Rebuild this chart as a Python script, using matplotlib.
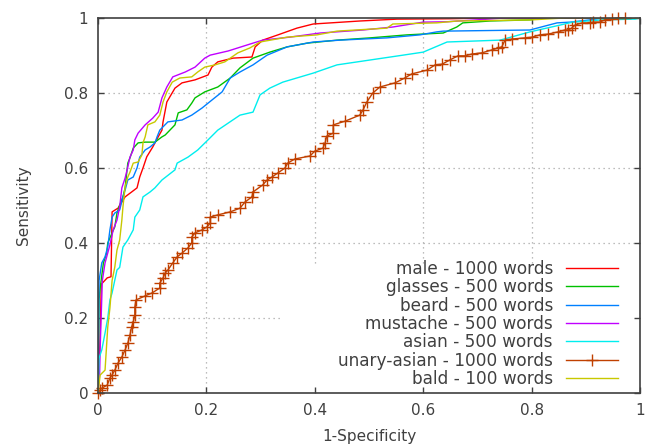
import matplotlib
matplotlib.use("Agg")
import matplotlib.pyplot as plt

# ---------------- data (FPR = 1-Specificity, TPR = Sensitivity) ----------------
labels = ["male - 1000 words", "glasses - 500 words", "beard - 500 words",
          "mustache - 500 words", "asian - 500 words",
          "unary-asian - 1000 words", "bald - 100 words"]

male_x = [0, 0.004, 0.006, 0.017, 0.024, 0.026, 0.037, 0.05, 0.062, 0.072, 0.077, 0.083, 0.09,
          0.101, 0.111, 0.118, 0.12, 0.127, 0.142, 0.155, 0.179, 0.203, 0.21, 0.221, 0.249,
          0.284, 0.29, 0.304, 0.332, 0.367, 0.397, 0.483, 0.552, 0.65, 0.72, 1.0]
male_y = [0, 0.15, 0.29, 0.307, 0.31, 0.483, 0.493, 0.523, 0.536, 0.547, 0.576, 0.6, 0.63,
          0.656, 0.683, 0.701, 0.723, 0.776, 0.813, 0.827, 0.835, 0.848, 0.869, 0.883, 0.893,
          0.896, 0.923, 0.941, 0.955, 0.973, 0.984, 0.992, 0.997, 0.998, 1.0, 1.0]

glasses_x = [0, 0.002, 0.004, 0.01, 0.016, 0.018, 0.026, 0.031, 0.035, 0.04, 0.046, 0.05,
             0.053, 0.055, 0.059, 0.065, 0.074, 0.087, 0.105, 0.118, 0.124, 0.142, 0.148,
             0.164, 0.173, 0.179, 0.197, 0.221, 0.244, 0.262, 0.286, 0.317, 0.349, 0.386,
             0.441, 0.502, 0.57, 0.637, 0.662, 0.673, 0.723, 0.797, 0.82, 1.0]
glasses_y = [0, 0.25, 0.28, 0.347, 0.373, 0.4, 0.427, 0.443, 0.48, 0.501, 0.523, 0.547,
             0.587, 0.613, 0.627, 0.653, 0.667, 0.669, 0.669, 0.683, 0.688, 0.715, 0.747,
             0.755, 0.773, 0.787, 0.803, 0.816, 0.84, 0.867, 0.893, 0.909, 0.923, 0.933,
             0.941, 0.947, 0.955, 0.96, 0.976, 0.987, 0.992, 0.995, 1.0, 1.0]

beard_x = [0, 0.002, 0.007, 0.013, 0.018, 0.022, 0.026, 0.031, 0.04, 0.046, 0.05, 0.055,
           0.065, 0.072, 0.077, 0.087, 0.096, 0.105, 0.109, 0.114, 0.129, 0.155, 0.173,
           0.192, 0.21, 0.229, 0.244, 0.262, 0.286, 0.312, 0.349, 0.397, 0.447, 0.533,
           0.594, 0.625, 0.637, 0.797, 0.81, 0.847, 0.871, 0.908, 0.93, 1.0]
beard_y = [0, 0.3, 0.347, 0.363, 0.39, 0.435, 0.469, 0.48, 0.488, 0.523, 0.541, 0.568,
           0.576, 0.6, 0.629, 0.648, 0.656, 0.667, 0.683, 0.701, 0.723, 0.728, 0.741,
           0.76, 0.781, 0.803, 0.84, 0.856, 0.875, 0.901, 0.923, 0.936, 0.941, 0.947,
           0.955, 0.963, 0.965, 0.968, 0.973, 0.987, 0.989, 0.995, 1.0, 1.0]

mustache_x = [0, 0.003, 0.004, 0.008, 0.013, 0.022, 0.028, 0.035, 0.04, 0.044, 0.05, 0.055,
              0.059, 0.065, 0.068, 0.074, 0.087, 0.101, 0.111, 0.118, 0.127, 0.138, 0.161,
              0.179, 0.197, 0.207, 0.24, 0.286, 0.304, 0.354, 0.41, 0.489, 0.544, 0.6,
              0.644, 0.72, 0.75, 1.0]
mustache_y = [0, 0.05, 0.12, 0.3, 0.347, 0.395, 0.435, 0.461, 0.496, 0.547, 0.573, 0.603,
              0.629, 0.648, 0.675, 0.693, 0.715, 0.733, 0.749, 0.787, 0.816, 0.843, 0.856,
              0.869, 0.893, 0.901, 0.912, 0.933, 0.941, 0.949, 0.96, 0.968, 0.976, 0.989,
              0.99, 0.997, 1.0, 1.0]

asian_x = [0, 0.002, 0.007, 0.013, 0.018, 0.022, 0.026, 0.031, 0.035, 0.04, 0.046, 0.055,
           0.065, 0.068, 0.077, 0.083, 0.096, 0.105, 0.118, 0.142, 0.146, 0.166, 0.184,
           0.203, 0.221, 0.262, 0.286, 0.299, 0.317, 0.341, 0.397, 0.441, 0.502, 0.563,
           0.6, 0.644, 0.742, 0.797, 0.852, 0.876, 0.93, 0.99, 1.0]
asian_y = [0, 0.093, 0.115, 0.16, 0.2, 0.248, 0.267, 0.301, 0.328, 0.335, 0.389, 0.408,
           0.435, 0.469, 0.488, 0.523, 0.536, 0.547, 0.568, 0.595, 0.613, 0.629, 0.648,
           0.675, 0.701, 0.741, 0.749, 0.795, 0.813, 0.829, 0.853, 0.875, 0.888, 0.901,
           0.909, 0.936, 0.941, 0.963, 0.981, 0.989, 0.995, 0.997, 1.0]

unary_x = [0, 0.004, 0.007, 0.017, 0.022, 0.026, 0.031, 0.037, 0.044, 0.05, 0.055, 0.059,
           0.062, 0.065, 0.068, 0.068, 0.07, 0.087, 0.1, 0.114, 0.114, 0.12, 0.124, 0.129,
           0.138, 0.146, 0.155, 0.166, 0.173, 0.173, 0.179, 0.192, 0.201, 0.207, 0.207,
           0.221, 0.244, 0.262, 0.271, 0.284, 0.286, 0.304, 0.312, 0.321, 0.332, 0.345,
           0.35, 0.363, 0.391, 0.4, 0.415, 0.419, 0.422, 0.434, 0.434, 0.456, 0.483, 0.489,
           0.496, 0.507, 0.52, 0.548, 0.566, 0.579, 0.607, 0.622, 0.635, 0.649, 0.664,
           0.677, 0.69, 0.708, 0.727, 0.738, 0.745, 0.751, 0.764, 0.788, 0.801, 0.815,
           0.83, 0.849, 0.862, 0.867, 0.874, 0.88, 0.893, 0.908, 0.913, 0.926, 0.935,
           0.948, 0.96, 0.972]
unary_y = [0, 0.008, 0.013, 0.021, 0.04, 0.048, 0.061, 0.08, 0.096, 0.115, 0.133, 0.155,
           0.176, 0.189, 0.208, 0.229, 0.248, 0.259, 0.267, 0.28, 0.293, 0.307, 0.32, 0.328,
           0.347, 0.363, 0.373, 0.387, 0.4, 0.416, 0.427, 0.435, 0.443, 0.453, 0.469,
           0.475, 0.483, 0.493, 0.509, 0.523, 0.536, 0.555, 0.568, 0.576, 0.587, 0.6,
           0.613, 0.624, 0.632, 0.645, 0.653, 0.667, 0.685, 0.693, 0.715, 0.725, 0.741,
           0.755, 0.776, 0.8, 0.816, 0.827, 0.84, 0.851, 0.861, 0.875, 0.877, 0.888, 0.899,
           0.899, 0.904, 0.907, 0.915, 0.92, 0.923, 0.941, 0.944, 0.947, 0.949, 0.955,
           0.957, 0.963, 0.968, 0.968, 0.973, 0.981, 0.987, 0.987, 0.989, 0.989, 0.995,
           0.997, 1.0, 1.0]

bald_x = [0, 0.004, 0.013, 0.015, 0.018, 0.022, 0.026, 0.031, 0.035, 0.04, 0.044, 0.046,
          0.05, 0.055, 0.059, 0.065, 0.074, 0.081, 0.083, 0.087, 0.092, 0.105, 0.114, 0.12,
          0.127, 0.137, 0.151, 0.173, 0.184, 0.197, 0.216, 0.234, 0.244, 0.258, 0.28,
          0.299, 0.349, 0.404, 0.441, 0.533, 0.544, 0.625, 0.662, 0.8, 0.86, 1.0]
bald_y = [0, 0.048, 0.061, 0.107, 0.176, 0.227, 0.3, 0.336, 0.381, 0.408, 0.461, 0.496,
          0.549, 0.576, 0.589, 0.613, 0.616, 0.635, 0.667, 0.683, 0.715, 0.723, 0.741,
          0.776, 0.803, 0.829, 0.84, 0.843, 0.856, 0.869, 0.875, 0.883, 0.893, 0.907,
          0.92, 0.936, 0.949, 0.955, 0.965, 0.973, 0.984, 0.987, 0.992, 0.995, 1.0, 1.0]

tick_values = [0, 0.2, 0.4, 0.6, 0.8, 1.0]
tick_labels = ["0", "0.2", "0.4", "0.6", "0.8", "1"]
x_label = "1-Specificity"
y_label = "Sensitivity"

colors = ["#ff0000", "#00c000", "#0080ff", "#c000ff", "#00eeee", "#c04000", "#c8c800"]

# ---------------- figure ----------------
plt.rcParams["font.family"] = ["DejaVu Sans"]
text_color = "#404040"

fig = plt.figure(figsize=(6.45, 4.44), dpi=100)
ax = fig.add_axes([98 / 645, 51 / 444, 542 / 645, 375 / 444])
ax.set_xlim(0, 1)
ax.set_ylim(0, 1)

# gnuplot-like dotted grid, hidden behind the key area
grid_kw = dict(color="#a8a8a8", lw=0.9, ls=(0, (1, 3)), zorder=0.5)
for v in tick_values[1:-1]:
    if v <= 0.2:
        ax.axvline(v, **grid_kw)
    else:
        ax.axvline(v, ymin=0.347, ymax=1, **grid_kw)
for v in tick_values[1:-1]:
    if v <= 0.2:
        ax.axhline(v, xmin=0, xmax=0.336, **grid_kw)
    else:
        ax.axhline(v, **grid_kw)

series = [(male_x, male_y), (glasses_x, glasses_y), (beard_x, beard_y),
          (mustache_x, mustache_y), (asian_x, asian_y), (unary_x, unary_y),
          (bald_x, bald_y)]
for i, ((xs, ys), lab, col) in enumerate(zip(series, labels, colors)):
    if i == 5:
        ax.plot(xs, ys, color=col, lw=1.0, marker="+", ms=8, mew=1.0, label=lab,
                clip_on=False)
    else:
        ax.plot(xs, ys, color=col, lw=1.0, label=lab)

ax.set_xticks(tick_values)
ax.set_xticklabels(tick_labels)
ax.set_yticks(tick_values)
ax.set_yticklabels(tick_labels)
ax.tick_params(direction="in", length=4.5, width=1.0, color="#404040",
               top=True, right=True, labelsize=11, labelcolor=text_color, pad=7)
for s in ax.spines.values():
    s.set_color("#404040")
    s.set_linewidth(1.2)

ax.set_xlabel(x_label, fontsize=11, color=text_color, labelpad=8)
ax.set_ylabel(y_label, fontsize=11, color=text_color, labelpad=24)

leg = ax.legend(loc="lower right", bbox_to_anchor=(0.969, 0.0), frameon=False,
                markerfirst=False, fontsize=12.2, labelspacing=0.02,
                handlelength=3.1, handletextpad=0.75, borderpad=0.3,
                borderaxespad=0.0)
for t in leg.get_texts():
    t.set_color(text_color)
for h in leg.get_lines():
    h.set_markersize(8)

fig.savefig("out.png", dpi=100)
